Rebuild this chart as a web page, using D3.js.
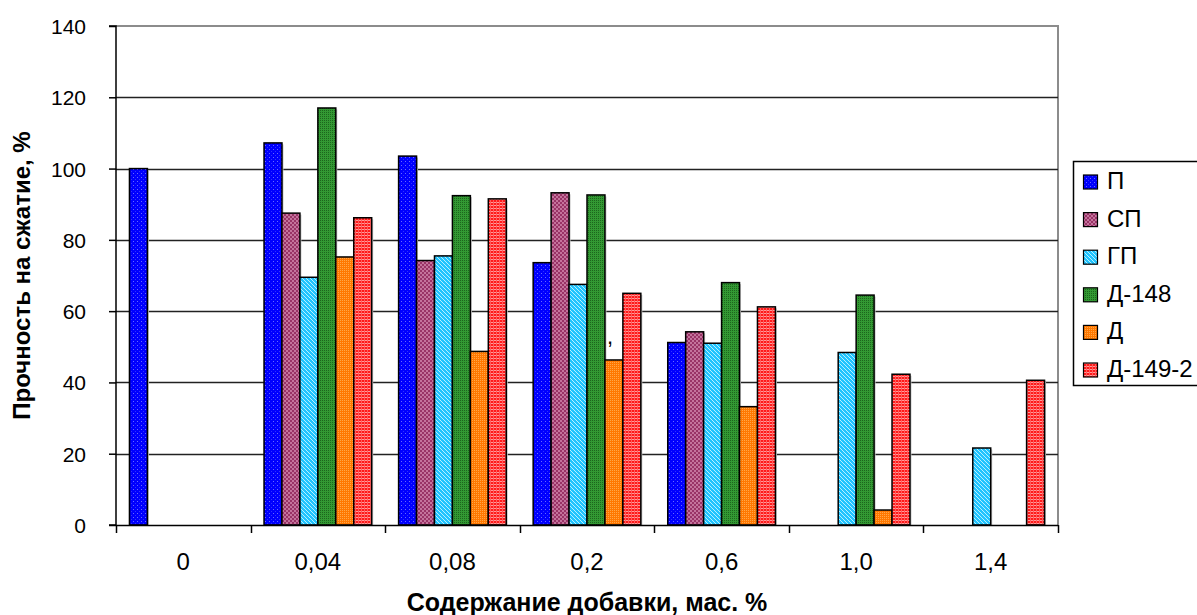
<!DOCTYPE html>
<html>
<head>
<meta charset="utf-8">
<script src="https://cdn.jsdelivr.net/npm/d3@7"></script>
<style>
  html, body { margin: 0; padding: 0; background: #fff; }
  svg { display: block; font-family: "Liberation Sans", Arial, sans-serif; }
</style>
</head>
<body>
<svg id="chart" width="1197" height="615"></svg>
<script>
// Additive content, mass %
const categories = ["0", "0,04", "0,08", "0,2", "0,6", "1,0", "1,4"];
const seriesNames = ["П", "СП", "ГП", "Д-148", "Д", "Д-149-2"];

// Compressive strength, % (null = no bar)
const valuesP      = [100, 107.2, 103.5, 73.6, 51.2, null, null];
const valuesSP     = [null, 87.5, 74.2, 93.2, 54.2, null, null];
const valuesGP     = [null, 69.5, 75.5, 67.5, 51.0, 48.4, 21.6];
const valuesD148   = [null, 117.0, 92.4, 92.6, 68.0, 64.5, null];
const valuesD      = [null, 75.2, 48.7, 46.3, 33.2, 4.2, null];
const valuesD149   = [null, 86.2, 91.5, 65.0, 61.2, 42.3, 40.6];

const yTicks = [0, 20, 40, 60, 80, 100, 120, 140];

const seriesValues = [valuesP, valuesSP, valuesGP, valuesD148, valuesD, valuesD149];

const svg = d3.select("#chart");
const plot = { left: 116, top: 26, right: 1058, bottom: 525 };

const x = d3.scaleBand().domain(categories).range([plot.left, plot.right]).padding(0);
// Excel-style clustered bars: gap width 150 %
const barW = x.bandwidth() / (seriesNames.length + 1.5);
const xOff = name => (x.bandwidth() - barW * seriesNames.length) / 2 + seriesNames.indexOf(name) * barW;

const y = d3.scaleLinear().domain([0, 140]).range([plot.bottom, plot.top]);

// ---- fill patterns ----
const defs = svg.append("defs");
function pat(id, w, h, bg, draw) {
  const p = defs.append("pattern").attr("id", id).attr("patternUnits", "userSpaceOnUse")
    .attr("width", w).attr("height", h);
  p.append("rect").attr("width", w).attr("height", h).attr("fill", bg);
  draw(p);
}
const px = (p, x0, y0, c) => p.append("rect").attr("x", x0).attr("y", y0).attr("width", 1).attr("height", 1).attr("fill", c);
// П: blue with light dots
pat("pP", 4, 4, "#0000ff", p => { px(p, 1, 1, "#6a6aff"); px(p, 3, 3, "#3030ff"); });
// СП: plum checker
pat("pSP", 4, 4, "#993366", p => {
  p.append("rect").attr("x", 0).attr("y", 0).attr("width", 2).attr("height", 2).attr("fill", "#c4739c");
  p.append("rect").attr("x", 2).attr("y", 2).attr("width", 2).attr("height", 2).attr("fill", "#c4739c");
});
// ГП: sky blue diagonal
pat("pGP", 4, 4, "#20c4ff", p => { [0, 1, 2, 3].forEach(i => px(p, i, i, "#b8efff")); });
// Д-148: green checker
pat("pD148", 2, 2, "#339933", p => { px(p, 0, 0, "#1d661d"); });
// Д: orange checker
pat("pD", 2, 2, "#ff7800", p => { px(p, 0, 0, "#ffa648"); });
// Д-149-2: red plaid
pat("pD149", 3, 3, "#ff1a1a", p => {
  p.append("rect").attr("x", 0).attr("y", 1).attr("width", 3).attr("height", 1).attr("fill", "#ff9a9a");
  p.append("rect").attr("x", 1).attr("y", 0).attr("width", 1).attr("height", 3).attr("fill", "#ff5c5c");
});
const fills = ["url(#pP)", "url(#pSP)", "url(#pGP)", "url(#pD148)", "url(#pD)", "url(#pD149)"];

// ---- plot frame and gridlines ----
svg.append("path")
  .attr("d", `M${plot.left},${plot.top}H${plot.right}V${plot.bottom}`)
  .attr("fill", "none").attr("stroke", "#8c8c8c").attr("stroke-width", 2);

svg.append("g").selectAll("line").data(yTicks.filter(t => t > 0 && t < 140)).join("line")
  .attr("x1", plot.left).attr("x2", plot.right)
  .attr("y1", d => Math.round(y(d)) + 0.5).attr("y2", d => Math.round(y(d)) + 0.5)
  .attr("stroke", "#222").attr("stroke-width", 1.5);

// ---- bars ----
const barsG = svg.append("g");
seriesNames.forEach((name, si) => {
  const data = categories.map((c, ci) => ({ c, v: seriesValues[si][ci] })).filter(d => d.v != null);
  // soft shadow
  barsG.append("g").selectAll("rect").data(data).join("rect")
    .attr("x", d => x(d.c) + xOff(name) + 1.5)
    .attr("y", d => y(d.v) + 1.5)
    .attr("width", barW)
    .attr("height", d => y(0) - y(d.v) - 1.5)
    .attr("fill", "#c4c4c4");
  barsG.append("g").selectAll("rect").data(data).join("rect")
    .attr("x", d => x(d.c) + xOff(name))
    .attr("y", d => y(d.v))
    .attr("width", barW)
    .attr("height", d => y(0) - y(d.v))
    .attr("fill", fills[si])
    .attr("stroke", "#000").attr("stroke-width", 1.5);
});

// stray data label on the Д bar at 0,2
{
  const ci = categories.indexOf("0,2");
  svg.append("text")
    .attr("x", x("0,2") + xOff("Д") + 5)
    .attr("y", y(valuesD[ci]) - 16)
    .attr("text-anchor", "middle")
    .attr("font-size", 22).attr("fill", "#000")
    .text(",");
}

// ---- axes ----
const yAxis = d3.axisLeft(y).tickValues(yTicks).tickSize(7).tickPadding(23);
const yg = svg.append("g").attr("transform", `translate(${plot.left},0)`).call(yAxis);
yg.attr("font-family", null).attr("font-size", null);
yg.select(".domain").attr("stroke", "#000").attr("stroke-width", 1.5).attr("d", `M-7,${plot.top}H0V${plot.bottom}H-7`);
yg.selectAll(".tick line").attr("stroke", "#000").attr("stroke-width", 1.5);
yg.selectAll(".tick text").attr("font-size", 21).attr("fill", "#000").attr("dy", "0.36em");

const xAxis = d3.axisBottom(x).tickSize(0).tickPadding(0);
const xg = svg.append("g").attr("transform", `translate(0,${plot.bottom})`).call(xAxis);
xg.attr("font-family", null).attr("font-size", null);
xg.select(".domain").remove();
xg.selectAll(".tick text").attr("font-size", 24).attr("fill", "#000")
  .attr("dy", null).attr("y", 45);
svg.append("line").attr("x1", plot.left).attr("x2", plot.right)
  .attr("y1", plot.bottom + 0.5).attr("y2", plot.bottom + 0.5)
  .attr("stroke", "#000").attr("stroke-width", 1.5);
// category boundary ticks
const bounds = categories.map(c => x(c)).concat([plot.right]);
svg.append("g").selectAll("line").data(bounds).join("line")
  .attr("x1", d => Math.round(d) + 0.5).attr("x2", d => Math.round(d) + 0.5)
  .attr("y1", plot.bottom).attr("y2", plot.bottom + 8)
  .attr("stroke", "#000").attr("stroke-width", 1.5);

// axis titles
svg.append("text")
  .attr("x", (plot.left + plot.right) / 2).attr("y", 611)
  .attr("text-anchor", "middle").attr("font-size", 25).attr("font-weight", "bold")
  .text("Содержание добавки, мас. %");
svg.append("text")
  .attr("transform", `translate(30,${(plot.top + plot.bottom) / 2}) rotate(-90)`)
  .attr("text-anchor", "middle").attr("font-size", 24).attr("font-weight", "bold")
  .text("Прочность на сжатие, %");

// ---- legend ----
const lg = svg.append("g").attr("transform", "translate(1073,161)");
lg.append("rect").attr("x", 0.5).attr("y", 0.5).attr("width", 160).attr("height", 224)
  .attr("fill", "#fff").attr("stroke", "#000").attr("stroke-width", 1.5);
seriesNames.forEach((name, i) => {
  const base = 28 + i * 37.6;
  lg.append("rect").attr("x", 10.5).attr("y", base - 14).attr("width", 14).attr("height", 14)
    .attr("fill", fills[i]).attr("stroke", "#000").attr("stroke-width", 1.2);
  lg.append("text").attr("x", 34).attr("y", base)
    .attr("font-size", 24).attr("fill", "#000").text(name);
});
</script>
</body>
</html>
